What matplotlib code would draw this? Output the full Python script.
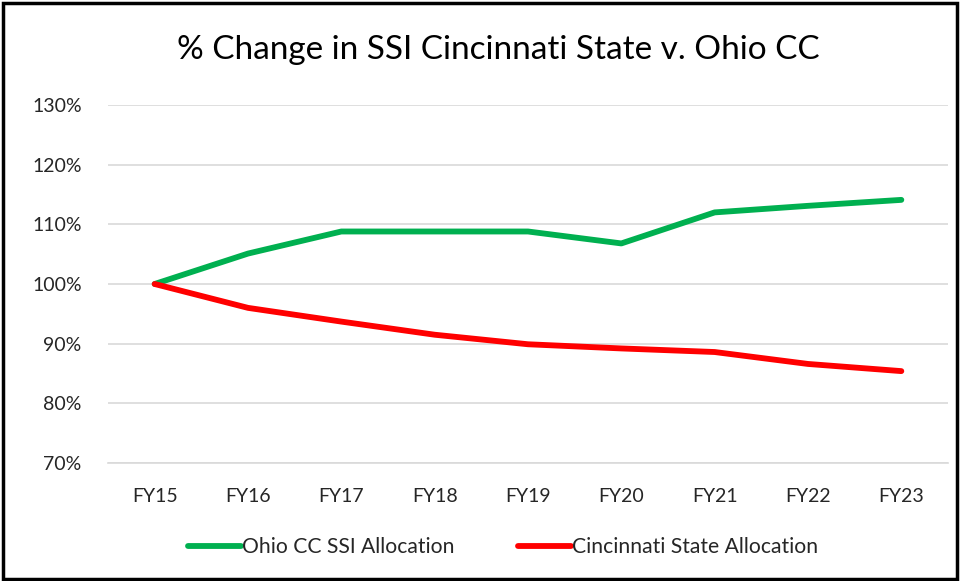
import matplotlib
matplotlib.use("Agg")
import matplotlib.pyplot as plt
from matplotlib.patches import Rectangle

categories = ["FY15", "FY16", "FY17", "FY18", "FY19", "FY20", "FY21", "FY22", "FY23"]
ohio_cc = [100.0, 105.1, 108.8, 108.8, 108.8, 106.8, 112.0, 113.1, 114.1]
cincy_state = [100.0, 96.0, 93.7, 91.5, 89.9, 89.2, 88.6, 86.6, 85.4]
yticks = [70, 80, 90, 100, 110, 120, 130]

plt.rcParams['font.family'] = ['Liberation Sans Narrow', 'Lato', 'DejaVu Sans']

fig = plt.figure(figsize=(9.62, 5.81), dpi=100)
ax = fig.add_axes([108/962, 1 - 463/581, 840/962, (463-105)/581])

x = list(range(len(categories)))
ax.plot(x, ohio_cc, color="#00B050", lw=4.2, solid_capstyle="round", solid_joinstyle="round", label="Ohio CC SSI Allocation")
ax.plot(x, cincy_state, color="#FF0000", lw=4.2, solid_capstyle="round", solid_joinstyle="round", label="Cincinnati State Allocation")

ax.set_xlim(-0.5, len(categories) - 0.5)
ax.set_ylim(70, 130)
ax.set_yticks(yticks)
ax.set_yticklabels([f"{v}%" for v in yticks], fontsize=14, color="#262626")
ax.set_xticks(x)
ax.set_xticklabels(categories, fontsize=14, color="#262626")
ax.tick_params(axis="both", length=0)
ax.tick_params(axis="y", pad=19)
ax.tick_params(axis="x", pad=18)
ax.grid(axis="y", color="#D9D9D9", lw=1.2)
ax.set_axisbelow(True)
for s in ax.spines.values():
    s.set_visible(False)
ax.spines["bottom"].set_visible(True)
ax.spines["bottom"].set_color("#D9D9D9")
ax.spines["bottom"].set_linewidth(1.2)

fig.text(498/962, 1 - 50/581, "% Change in SSI Cincinnati State v. Ohio CC", ha="center", va="center",
         fontsize=24, color="#000000")

leg = fig.legend(loc="center", bbox_to_anchor=(503/962, 1 - 547/581), ncol=2, frameon=False,
                 fontsize=15.2, handlelength=2.5, handletextpad=0.05, columnspacing=3.0)
for t in leg.get_texts():
    t.set_color("#262626")

fig.patches.append(Rectangle((3/962, 2/581), 954/962, 576/581, transform=fig.transFigure,
                             fill=False, edgecolor="black", lw=2.5))

fig.savefig("out.png", dpi=100)
